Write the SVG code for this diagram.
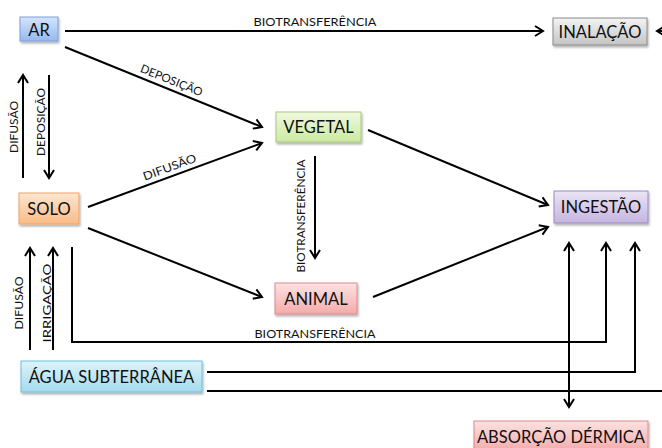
<svg xmlns="http://www.w3.org/2000/svg" width="662" height="448" viewBox="0 0 662 448">
<style>
.box{stroke-width:1}
.lbl{font-family:Lato,"Liberation Sans",sans-serif;font-size:16.5px;fill:#111;text-anchor:middle;dominant-baseline:central}
.sm{font-family:Lato,"Liberation Sans",sans-serif;font-size:11.5px;fill:#111;text-anchor:middle}
.ln{fill:none;stroke:#000;stroke-width:2}
</style>
<defs>
<filter id="sh" x="-20%" y="-30%" width="140%" height="170%"><feDropShadow dx="1" dy="2" stdDeviation="1.2" flood-color="#000" flood-opacity="0.3"/></filter>
<marker id="ar" markerUnits="userSpaceOnUse" markerWidth="14" markerHeight="14" viewBox="-11 -7 14 14" refX="0" refY="0" orient="auto-start-reverse"><path d="M-8,-5 L0,0 L-8,5" fill="none" stroke="#000" stroke-width="2"/></marker>
<linearGradient id="gBlue" x1="0" y1="0" x2="0" y2="1"><stop offset="0" stop-color="#d6e4fb"/><stop offset="1" stop-color="#96b9ee"/></linearGradient>
<linearGradient id="gGray" x1="0" y1="0" x2="0" y2="1"><stop offset="0" stop-color="#f4f4f4"/><stop offset="1" stop-color="#c4c4c4"/></linearGradient>
<linearGradient id="gGreen" x1="0" y1="0" x2="0" y2="1"><stop offset="0" stop-color="#f0f9df"/><stop offset="1" stop-color="#cbeaa2"/></linearGradient>
<linearGradient id="gOrange" x1="0" y1="0" x2="0" y2="1"><stop offset="0" stop-color="#fde6d0"/><stop offset="1" stop-color="#f9bb88"/></linearGradient>
<linearGradient id="gPurple" x1="0" y1="0" x2="0" y2="1"><stop offset="0" stop-color="#ebe4f4"/><stop offset="1" stop-color="#c5b5e0"/></linearGradient>
<linearGradient id="gPink" x1="0" y1="0" x2="0" y2="1"><stop offset="0" stop-color="#fde2e2"/><stop offset="1" stop-color="#f4abab"/></linearGradient>
<linearGradient id="gCyan" x1="0" y1="0" x2="0" y2="1"><stop offset="0" stop-color="#dff3fa"/><stop offset="1" stop-color="#a3dbee"/></linearGradient>
</defs>
<rect width="662" height="448" fill="#fff"/>

<g id="connectors">
<path class="ln" d="M65,31 H543" marker-end="url(#ar)"/>
<path class="ln" d="M672,31 H657" marker-end="url(#ar)"/>
<path class="ln" d="M65,47 L262,127" marker-end="url(#ar)"/>
<path class="ln" d="M88,207 L262,143" marker-end="url(#ar)"/>
<path class="ln" d="M88,228 L262,297" marker-end="url(#ar)"/>
<path class="ln" d="M368,130 L548,205" marker-end="url(#ar)"/>
<path class="ln" d="M373,297 L548,227" marker-end="url(#ar)"/>
<path class="ln" d="M315,156 V258" marker-end="url(#ar)"/>
<path class="ln" d="M23,178 V75" marker-end="url(#ar)"/>
<path class="ln" d="M49,75 V178" marker-end="url(#ar)"/>
<path class="ln" d="M30,350 V248" marker-end="url(#ar)"/>
<path class="ln" d="M53,350 V248" marker-end="url(#ar)"/>
<path class="ln" d="M72,247 V342 H606 V243" marker-end="url(#ar)"/>
<path class="ln" d="M207,372 H635 V243" marker-end="url(#ar)"/>
<path class="ln" d="M207,391 H664"/>
<path class="ln" d="M569,243 V407" marker-start="url(#ar)" marker-end="url(#ar)"/>
<text class="sm" x="315" y="26" textLength="123" lengthAdjust="spacingAndGlyphs">BIOTRANSFERÊNCIA</text>
<text class="sm" transform="translate(170,84) rotate(22.1)" textLength="66" lengthAdjust="spacingAndGlyphs">DEPOSIÇÃO</text>
<text class="sm" transform="translate(171,171) rotate(-20.2)" textLength="56" lengthAdjust="spacingAndGlyphs">DIFUSÃO</text>
<text class="sm" transform="translate(305,216) rotate(-90)" textLength="113" lengthAdjust="spacingAndGlyphs">BIOTRANSFERÊNCIA</text>
<text class="sm" transform="translate(18,127) rotate(-90)" textLength="52" lengthAdjust="spacingAndGlyphs">DIFUSÃO</text>
<text class="sm" transform="translate(45,122) rotate(-90)" textLength="68" lengthAdjust="spacingAndGlyphs">DEPOSIÇÃO</text>
<text class="sm" transform="translate(23,303) rotate(-90)" textLength="53" lengthAdjust="spacingAndGlyphs">DIFUSÃO</text>
<text class="sm" transform="translate(51,303) rotate(-90)" textLength="79" lengthAdjust="spacingAndGlyphs">IRRIGAÇÃO</text>
<text class="sm" x="315" y="338" textLength="121" lengthAdjust="spacingAndGlyphs">BIOTRANSFERÊNCIA</text>
</g>

<g id="ar-node"><rect class="box" x="20" y="17" width="38" height="24" fill="url(#gBlue)" stroke="#7d9fd6" filter="url(#sh)"/><text class="lbl" x="39" y="29.5">AR</text></g>
<g id="inalacao"><rect class="box" x="553" y="18" width="94" height="27" fill="url(#gGray)" stroke="#8a8a8a" filter="url(#sh)"/><text class="lbl" x="600" y="31.5">INALAÇÃO</text></g>
<g id="vegetal"><rect class="box" x="276" y="112" width="85" height="30" fill="url(#gGreen)" stroke="#a8c87a" filter="url(#sh)"/><text class="lbl" x="318.5" y="127">VEGETAL</text></g>
<g id="solo"><rect class="box" x="19" y="193" width="60" height="31" fill="url(#gOrange)" stroke="#f0a468" filter="url(#sh)"/><text class="lbl" x="49" y="208.5">SOLO</text></g>
<g id="ingestao"><rect class="box" x="554" y="191" width="94" height="32" fill="url(#gPurple)" stroke="#9e88c2" filter="url(#sh)"/><text class="lbl" x="601" y="207">INGESTÃO</text></g>
<g id="animal"><rect class="box" x="275" y="283" width="82" height="31" fill="url(#gPink)" stroke="#dc8a8a" filter="url(#sh)"/><text class="lbl" x="316" y="298.5">ANIMAL</text></g>
<g id="agua"><rect class="box" x="21" y="361" width="181" height="31" fill="url(#gCyan)" stroke="#6fc0da" filter="url(#sh)"/><text class="lbl" x="111.5" y="376.5">ÁGUA SUBTERRÂNEA</text></g>
<g id="absorcao"><rect class="box" x="474" y="421" width="174" height="30" fill="url(#gPink)" stroke="#dc8a8a" filter="url(#sh)"/><text class="lbl" x="561" y="436.5">ABSORÇÃO DÉRMICA</text></g>
</svg>
